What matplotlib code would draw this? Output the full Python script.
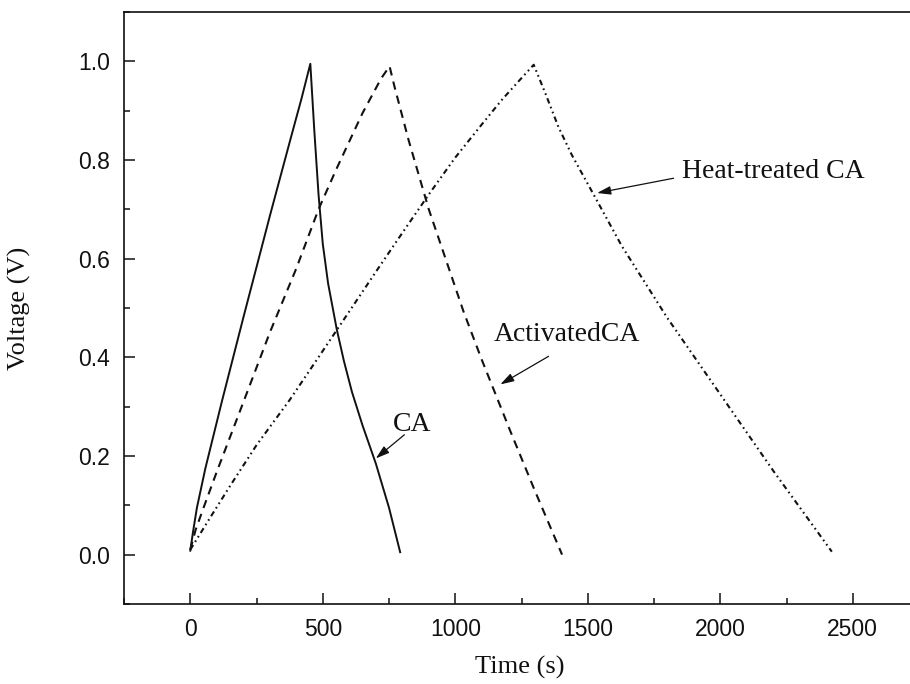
import matplotlib
matplotlib.use("Agg")
import matplotlib.pyplot as plt
from matplotlib.ticker import MultipleLocator

# galvanostatic charge/discharge curves, time (s) vs voltage (V)
ca_t = [0, 10, 25, 57, 119, 200, 302, 377, 420, 453,
        468, 484, 500, 520, 553, 580, 610, 650, 700, 750, 792]
ca_v = [0.008, 0.045, 0.095, 0.175, 0.31, 0.48, 0.69, 0.84, 0.925, 0.995,
        0.86, 0.73, 0.63, 0.55, 0.456, 0.392, 0.33, 0.262, 0.185, 0.095, 0.005]

act_t = [0, 20, 50, 100, 201, 300, 400, 484, 550, 650, 720, 752,
         770, 824, 900, 1031, 1100, 1208, 1300, 1403]
act_v = [0.01, 0.05, 0.095, 0.168, 0.31, 0.45, 0.58, 0.70, 0.78, 0.895, 0.965, 0.99,
         0.95, 0.84, 0.70, 0.493, 0.395, 0.25, 0.13, 0.0]

heat_t = [0, 75, 151, 250, 377, 500, 600, 700, 800, 900, 1000, 1100, 1176, 1233, 1296,
          1340, 1390, 1440, 1522, 1629, 1800, 2000, 2200, 2421]
heat_v = [0.01, 0.075, 0.14, 0.222, 0.315, 0.413, 0.493, 0.573, 0.652, 0.73, 0.805, 0.872,
          0.922, 0.956, 0.993, 0.935, 0.866, 0.81, 0.73, 0.625, 0.48, 0.325, 0.17, 0.006]

# label text, text anchor (left, centre) and arrow tail -> tip
labels = ["Heat-treated CA", "ActivatedCA", "CA"]
label_pos = [(1857, 0.777), (1145, 0.446), (766, 0.264)]
arrow_tail = [(1824, 0.763), (1352, 0.402), (808, 0.243)]
arrow_tip = [(1535, 0.733), (1170, 0.345), (700, 0.195)]

plt.rcParams["lines.scale_dashes"] = False
serif = ["Liberation Serif", "DejaVu Serif"]
sans = ["Liberation Sans", "DejaVu Sans"]

fig = plt.figure(figsize=(9.1, 6.84), dpi=100)
ax = fig.add_axes([0.1363, 0.117, 0.8736, 0.8655])

lc = "#111111"
ax.plot(ca_t, ca_v, color=lc, lw=1.4, linestyle="-")
ax.plot(act_t, act_v, color=lc, lw=1.5, linestyle=(0, (6, 4.5)))
ax.plot(heat_t, heat_v, color=lc, lw=1.5, linestyle=(0, (4, 2.6, 1.2, 2.6, 1.2, 2.6)))

for txt, pos, tail, tip in zip(labels, label_pos, arrow_tail, arrow_tip):
    ax.text(pos[0], pos[1], txt, ha="left", va="center", fontsize=20,
            family=serif, color=lc)
    ax.annotate("", xy=tip, xytext=tail,
                arrowprops=dict(arrowstyle="-|>,head_length=0.55,head_width=0.17",
                                color=lc, lw=0.9, mutation_scale=15,
                                shrinkA=0, shrinkB=0))

ax.set_xlim(-250, 2750)
ax.set_ylim(-0.1, 1.1)
ax.xaxis.set_major_locator(MultipleLocator(500))
ax.xaxis.set_minor_locator(MultipleLocator(250))
ax.yaxis.set_major_locator(MultipleLocator(0.2))
ax.yaxis.set_minor_locator(MultipleLocator(0.1))
ax.set_yticks([0.0, 0.2, 0.4, 0.6, 0.8, 1.0])

ax.tick_params(which="both", direction="in", width=1.1, colors=lc,
               top=False, right=False, pad=10, labelsize=16.5)
ax.tick_params(which="major", length=8)
ax.tick_params(which="minor", length=4.5)
for lab in ax.get_xticklabels() + ax.get_yticklabels():
    lab.set_family(sans)

for side in ["left", "bottom", "top"]:
    ax.spines[side].set_linewidth(1.2)
    ax.spines[side].set_color(lc)
ax.spines["right"].set_visible(False)

ax.set_xlabel("Time (s)", fontsize=19, family=serif, color=lc)
ax.set_ylabel("Voltage (V)", fontsize=19, family=serif, color=lc)
ax.xaxis.set_label_coords(0.498, -0.088)
ax.yaxis.set_label_coords(-0.117, 0.5)

fig.savefig("out.png", dpi=100)
